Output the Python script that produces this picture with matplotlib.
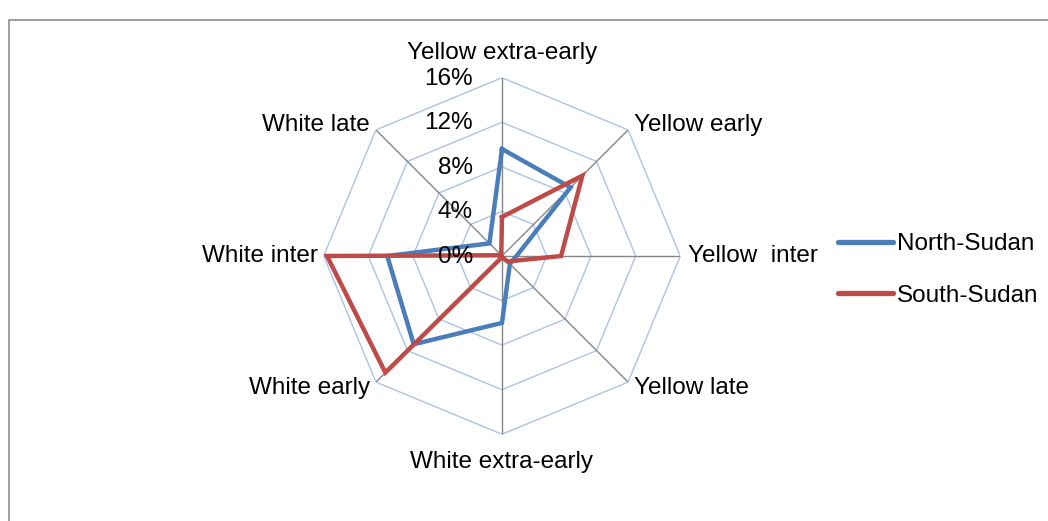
import numpy as np
import matplotlib
matplotlib.use("Agg")
import matplotlib.pyplot as plt
from matplotlib.patches import Rectangle

plt.rcParams["font.family"] = ["Liberation Sans", "DejaVu Sans"]

CATEGORIES = [
    "Yellow extra-early",
    "Yellow early",
    "Yellow  inter",
    "Yellow late",
    "White extra-early",
    "White early",
    "White inter",
    "White late",
]
NORTH_SUDAN = [9.6, 8.7, 1.3, 1.0, 6.0, 11.2, 10.3, 1.6]
SOUTH_SUDAN = [3.5, 10.2, 5.3, 0.7, 0.1, 14.8, 15.7, 0.1]
SERIES_NAMES = ["North-Sudan", "South-Sudan"]
TICKS = [0, 4, 8, 12, 16]
TICK_LABELS = ["0%", "4%", "8%", "12%", "16%"]

BLUE = "#4a7ebb"
RED = "#be4b48"
GRID = "#adc3e6"
SPOKE = "#868686"

W, H = 1048, 521
fig = plt.figure(figsize=(W / 100, H / 100), dpi=100)

# chart area frame
fig.patches.append(Rectangle((9 / W, -0.1), 1.2, (H - 20) / H + 0.1,
                             transform=fig.transFigure, fill=False,
                             edgecolor="#8c8c8c", linewidth=1.2))

cx, cy, rad = 502, 256, 178.3
ax = fig.add_axes([(cx - rad) / W, (H - cy - rad) / H, 2 * rad / W, 2 * rad / H],
                  projection="polar")
ax.set_theta_offset(np.pi / 2)
ax.set_theta_direction(-1)
ax.set_ylim(0, 16)
ax.grid(False)
ax.spines["polar"].set_visible(False)
ax.set_xticks([])
ax.set_yticks([])
ax.patch.set_alpha(0)

n = len(CATEGORIES)
theta = np.arange(n) * 2 * np.pi / n
theta_closed = np.append(theta, theta[0])

# polygon gridlines
for t in TICKS[1:]:
    ax.plot(theta_closed, [t] * (n + 1), color=GRID, linewidth=1.0, zorder=1)
# spokes
for th in theta:
    ax.plot([th, th], [0, 16], color=SPOKE, linewidth=1.0, zorder=1)

# data
for vals, color, name in [(NORTH_SUDAN, BLUE, SERIES_NAMES[0]),
                          (SOUTH_SUDAN, RED, SERIES_NAMES[1])]:
    ax.plot(theta_closed, vals + vals[:1], color=color, linewidth=3.2,
            label=name, zorder=3, solid_joinstyle="miter")

fs = 17.5
# radial tick labels
for t, lab in zip(TICKS, TICK_LABELS):
    ax.annotate(lab, xy=(0, t), xytext=(-29, -1), textcoords="offset pixels",
                ha="right", va="center", fontsize=fs, zorder=4)

# category labels
offsets = [
    ((0, 25), "center", "center"),
    ((6, 5), "left", "center"),
    ((8, 0), "left", "center"),
    ((6, -6), "left", "center"),
    ((0, -28), "center", "center"),
    ((-6, -6), "right", "center"),
    ((-6, 0), "right", "center"),
    ((-6, 5), "right", "center"),
]
for th, lab, (off, ha, va) in zip(theta, CATEGORIES, offsets):
    ax.annotate(lab, xy=(th, 16), xytext=off, textcoords="offset pixels",
                ha=ha, va=va, fontsize=fs)

leg = fig.legend(loc="center left", bbox_to_anchor=(838 / W, (H - 270) / H),
                 frameon=False, fontsize=fs, handlelength=2.26,
                 handletextpad=0.17, labelspacing=1.2, borderpad=0,
                 borderaxespad=0)
for line in leg.get_lines():
    line.set_linewidth(3.8)
    line.set_solid_capstyle("round")

fig.savefig("out.png", dpi=100)
